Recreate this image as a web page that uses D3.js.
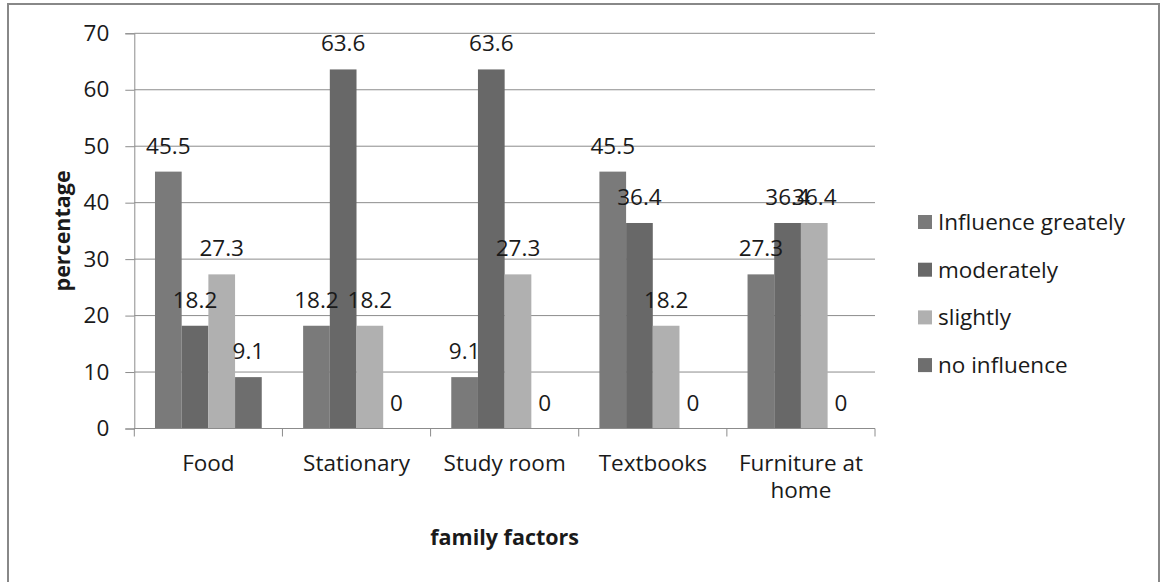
<!DOCTYPE html>
<html>
<head>
<meta charset="utf-8">
<script src="https://cdn.jsdelivr.net/npm/d3@7"></script>
<style>
  html, body { margin: 0; padding: 0; background: #fff; }
  svg { display: block; }
  text { font-family: "Open Sans", Lato, sans-serif; fill: #1a1a1a; }
</style>
</head>
<body>
<svg id="chart" width="1161" height="582"></svg>
<script>
// Survey responses: how family factors influence students (percentage)
const categories = ["Food", "Stationary", "Study room", "Textbooks", "Furniture at home"];
const seriesNames = ["Influence greately", "moderately", "slightly", "no influence"];
const influenceGreatly = [45.5, 18.2, 9.1, 45.5, 27.3];
const moderately = [18.2, 63.6, 63.6, 36.4, 36.4];
const slightly = [27.3, 18.2, 27.3, 18.2, 36.4];
const noInfluence = [9.1, 0, 0, 0, 0];
const yTicks = [0, 10, 20, 30, 40, 50, 60, 70];
const seriesColors = ["#7a7a7a", "#686868", "#b0b0b0", "#6e6e6e"];

const seriesValues = [influenceGreatly, moderately, slightly, noInfluence];
const FS = 22.5;
const TITLE_FS = 21.5;

const svg = d3.select("#chart");
const plot = { left: 134.3, right: 875, top: 33.3, bottom: 428.5 };

// outer chart frame
svg.append("path")
  .attr("d", "M8,590 V4 H1159 V590")
  .attr("fill", "none")
  .attr("stroke", "#888")
  .attr("stroke-width", 2);

const x0 = d3.scaleBand().domain(categories).range([plot.left, plot.right]).padding(0);
const x1 = d3.scaleBand().domain(seriesNames).range([0, x0.bandwidth()])
  .paddingInner(0).paddingOuter(0.775);
const y = d3.scaleLinear().domain([0, 70]).range([plot.bottom, plot.top]);

// gridlines
svg.append("g")
  .selectAll("line")
  .data(yTicks.filter(d => d > 0))
  .join("line")
  .attr("x1", plot.left).attr("x2", plot.right)
  .attr("y1", d => y(d)).attr("y2", d => y(d))
  .attr("stroke", "#8c8c8c").attr("stroke-width", 1);

// y axis
const yAxis = d3.axisLeft(y).tickValues(yTicks).tickSize(9).tickPadding(16);
const gy = svg.append("g").attr("transform", `translate(${plot.left},0)`).call(yAxis);
gy.select(".domain").attr("stroke", "#8c8c8c");
gy.selectAll(".tick line").attr("stroke", "#8c8c8c");
gy.selectAll(".tick text")
  .attr("font-size", FS)
  .attr("fill", "#1a1a1a")
  .style("font-family", "'Open Sans', Lato, sans-serif");

// bars
const groups = svg.append("g")
  .selectAll("g")
  .data(categories.map((c, i) => ({ cat: c, i })))
  .join("g")
  .attr("transform", d => `translate(${x0(d.cat)},0)`);

groups.selectAll("rect")
  .data(d => seriesNames.map((s, k) => ({ s, k, v: seriesValues[k][d.i] })))
  .join("rect")
  .attr("x", d => x1(d.s))
  .attr("width", x1.bandwidth())
  .attr("y", d => y(d.v))
  .attr("height", d => y(0) - y(d.v))
  .attr("fill", d => seriesColors[d.k]);

// value labels
groups.selectAll("text.val")
  .data(d => seriesNames.map((s, k) => ({ s, k, v: seriesValues[k][d.i] })))
  .join("text")
  .attr("class", "val")
  .attr("x", d => x1(d.s) + x1.bandwidth() / 2)
  .attr("y", d => y(d.v) - 18)
  .attr("text-anchor", "middle")
  .attr("font-size", FS)
  .text(d => d.v);

// x axis line and category separators
const xAxis = svg.append("g");
xAxis.append("line")
  .attr("x1", plot.left).attr("x2", plot.right)
  .attr("y1", plot.bottom).attr("y2", plot.bottom)
  .attr("stroke", "#8c8c8c");
const bounds = categories.map(c => x0(c)).concat([plot.right]);
xAxis.selectAll("line.sep")
  .data(bounds)
  .join("line")
  .attr("class", "sep")
  .attr("x1", d => d).attr("x2", d => d)
  .attr("y1", plot.bottom).attr("y2", plot.bottom + 8)
  .attr("stroke", "#8c8c8c");

// category labels (wrapped as in the original axis)
const catLines = { "Furniture at home": ["Furniture at", "home"] };
categories.forEach(c => {
  const lines = catLines[c] || [c];
  const t = xAxis.append("text")
    .attr("text-anchor", "middle")
    .attr("font-size", FS)
    .attr("x", x0(c) + x0.bandwidth() / 2)
    .attr("y", 471);
  lines.forEach((l, j) => {
    t.append("tspan")
      .attr("x", x0(c) + x0.bandwidth() / 2)
      .attr("dy", j === 0 ? 0 : 27)
      .text(l);
  });
});

// axis titles
svg.append("text")
  .attr("x", (plot.left + plot.right) / 2)
  .attr("y", 545)
  .attr("text-anchor", "middle")
  .attr("font-size", TITLE_FS)
  .attr("font-weight", "bold")
  .text("family factors");

svg.append("text")
  .attr("transform", `translate(70,${(plot.top + plot.bottom) / 2}) rotate(-90)`)
  .attr("text-anchor", "middle")
  .attr("font-size", TITLE_FS)
  .attr("font-weight", "bold")
  .text("percentage");

// legend
const legend = svg.append("g")
  .selectAll("g")
  .data(seriesNames)
  .join("g")
  .attr("transform", (d, i) => `translate(918,${222 + i * 47.7})`);
legend.append("rect")
  .attr("x", 0).attr("y", -7)
  .attr("width", 14).attr("height", 14)
  .attr("fill", (d, i) => seriesColors[i]);
legend.append("text")
  .attr("x", 20).attr("y", 8)
  .attr("font-size", FS)
  .text(d => d);
</script>
</body>
</html>
